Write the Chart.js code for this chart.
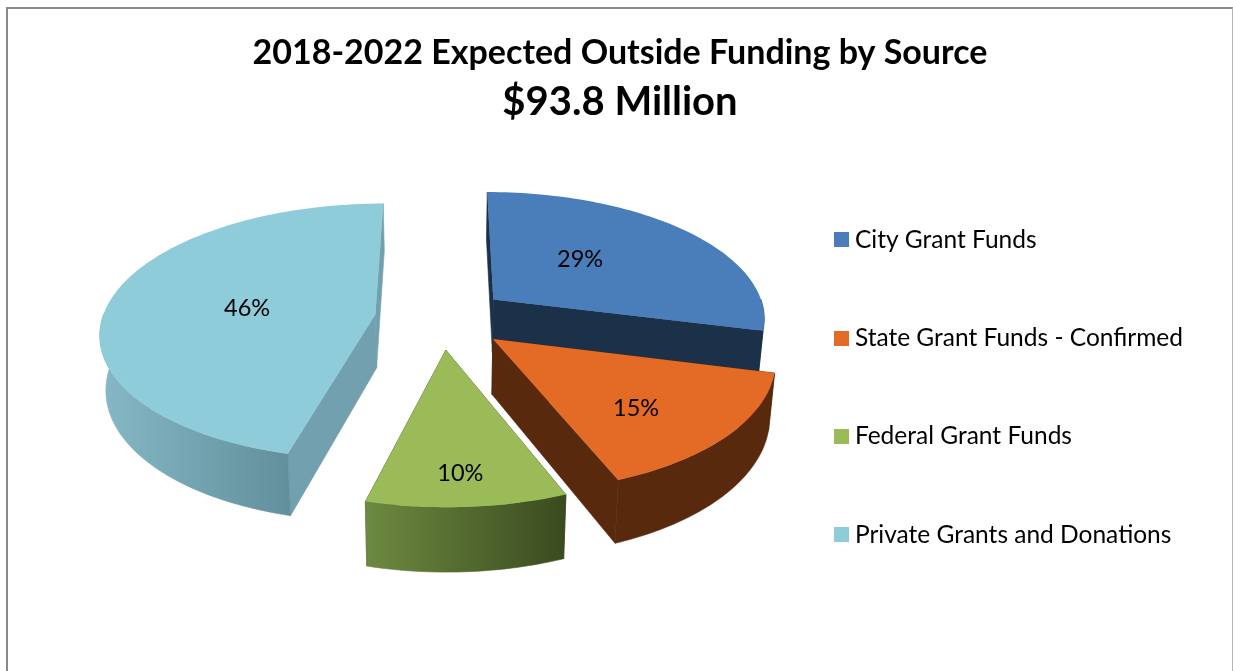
<!DOCTYPE html>
<html lang="en">
<head>
<meta charset="UTF-8">
<title>2018-2022 Expected Outside Funding by Source</title>
<script src="https://cdn.jsdelivr.net/npm/chart.js"></script>
<style>
    body { margin: 0; background: #ffffff; }
    #frame {
        position: absolute; left: 6px; top: 7px; width: 1224px; height: 670px;
        border-top: 2px solid #8a8a8a; border-left: 2px solid #8a8a8a; border-right: 1px solid #b5b5b5;
    }
    #wrap { position: absolute; left: 0; top: 0; width: 1233px; height: 671px; overflow: hidden; }
</style>
</head>
<body>
<div id="frame"></div>
<div id="wrap"><canvas id="funding"></canvas></div>
<script>
const categories = ["City Grant Funds", "State Grant Funds - Confirmed", "Federal Grant Funds", "Private Grants and Donations"];
const shares = [29, 15, 10, 46];
const topColors = ["#4a7ebb", "#e46b25", "#9bbb59", "#8fccda"];
const faceColors = ["#1b3049", "#58290d", "#4e6130", "#73a0ae"];
const wallStops = [["#1b3049", "#1b3049"], ["#58290d", "#58290d"], ["#6d8a40", "#3a4a1f"], ["#86b8c6", "#62909c"]];

const FONT = "Lato, 'Open Sans', sans-serif";

// perspective view of the pie plane; u/v are in pie radii, v grows towards the viewer
const view = { cx: 441.5, cy: 318, rx: 273, ry: 126.5, persp: 0.135, explode: 0.245, depth: 54, shrink: 0.982 };

// where the percentage sits along each slice's middle, plus a small pixel nudge
const labelRadius = [0.47, 0.66, 0.8, 0.47];
const labelNudge = [[-7, -6], [-7, 8], [-2, 2], [-3, 2]];

function project(u, v) {
    const w = 1 - view.persp * v;
    return { x: view.cx + view.rx * u / w, y: view.cy + view.ry * v / w, w };
}

function drop(p) {
    return { x: view.cx + (p.x - view.cx) * view.shrink, y: p.y + view.depth / p.w };
}

// Chart.js arc angles run clockwise from 3 o'clock, same sense as u/v here
function planePoint(arc, angle, r) {
    const mid = (arc.startAngle + arc.endAngle) / 2;
    return {
        u: view.explode * Math.cos(mid) + r * Math.cos(angle),
        v: view.explode * Math.sin(mid) + r * Math.sin(angle)
    };
}

function rimPoints(arc, frontOnly) {
    const pts = [];
    const steps = Math.ceil((arc.endAngle - arc.startAngle) * 40);
    for (let i = 0; i <= steps; i++) {
        const a = arc.startAngle + (arc.endAngle - arc.startAngle) * i / steps;
        if (frontOnly && Math.sin(a) < -0.02) continue;
        const q = planePoint(arc, a, 1);
        pts.push(project(q.u, q.v));
    }
    return pts;
}

function tracePoly(ctx, pts) {
    ctx.beginPath();
    pts.forEach((p, i) => i ? ctx.lineTo(p.x, p.y) : ctx.moveTo(p.x, p.y));
    ctx.closePath();
}

function fillTop(ctx, pts, fill) {
    tracePoly(ctx, pts);
    ctx.fillStyle = fill;
    ctx.fill();
}

// side panels get a hairline in their own colour so no seam shows between them
function fillSide(ctx, pts, fill) {
    tracePoly(ctx, pts);
    ctx.fillStyle = fill;
    ctx.strokeStyle = fill;
    ctx.lineWidth = 0.6;
    ctx.fill();
    ctx.stroke();
}

function drawSlice(ctx, arc, i) {
    const q = planePoint(arc, 0, 0);
    const apex = project(q.u, q.v);
    const rim = rimPoints(arc, false);
    const first = rim[0], last = rim[rim.length - 1];

    fillSide(ctx, [apex, first, drop(first), drop(apex)], faceColors[i]);
    fillSide(ctx, [apex, last, drop(last), drop(apex)], faceColors[i]);

    const front = rimPoints(arc, true);
    if (front.length > 1) {
        const xs = front.map(p => p.x);
        const grad = ctx.createLinearGradient(Math.min(...xs), 0, Math.max(...xs), 0);
        grad.addColorStop(0, wallStops[i][0]);
        grad.addColorStop(1, wallStops[i][1]);
        fillSide(ctx, front.concat(front.map(drop).reverse()), grad);
    }

    fillTop(ctx, [apex].concat(rim), topColors[i]);
}

const pie3d = {
    id: "pie3d",
    beforeDatasetsDraw(chart) {
        const ctx = chart.ctx;
        const arcs = chart.getDatasetMeta(0).data;
        ctx.save();
        // back slices first so the front ones sit on top
        [0, 3, 1, 2].forEach(i => drawSlice(ctx, arcs[i], i));

        ctx.fillStyle = "#000000";
        ctx.font = "23.5px " + FONT;
        ctx.textAlign = "center";
        ctx.textBaseline = "middle";
        arcs.forEach((arc, i) => {
            const mid = (arc.startAngle + arc.endAngle) / 2;
            const q = planePoint(arc, mid, labelRadius[i]);
            const p = project(q.u, q.v);
            ctx.fillText(shares[i] + "%", p.x + labelNudge[i][0], p.y + labelNudge[i][1]);
        });
        ctx.restore();
        return false;
    }
};

function swatch(color) {
    const c = document.createElement("canvas");
    c.width = 15;
    c.height = 15;
    const g = c.getContext("2d");
    g.fillStyle = color;
    g.fillRect(0, 0, 15, 15);
    return c;
}

new Chart(document.getElementById("funding"), {
    type: "pie",
    data: {
        labels: categories,
        datasets: [{ data: shares, backgroundColor: topColors, borderWidth: 0 }]
    },
    options: {
        responsive: true,
        maintainAspectRatio: false,
        animation: false,
        layout: { padding: { top: 33, right: 40, bottom: 42, left: 47 } },
        plugins: {
            tooltip: { enabled: false },
            title: {
                display: true,
                text: "2018-2022 Expected Outside Funding by Source",
                color: "#000000",
                font: { family: FONT, size: 34, weight: "bold" },
                padding: { top: 0, bottom: 4 }
            },
            subtitle: {
                display: true,
                text: "$93.8 Million",
                color: "#000000",
                font: { family: FONT, size: 40, weight: "bold" },
                padding: { top: 0, bottom: 20 }
            },
            legend: {
                position: "right",
                fullSize: false,
                labels: {
                    color: "#000000",
                    font: { family: FONT, size: 24.5 },
                    usePointStyle: true,
                    pointStyleWidth: 2.75,
                    boxHeight: 15,
                    padding: 73.8,
                    generateLabels(chart) {
                        return categories.map((name, i) => ({
                            text: name,
                            fillStyle: topColors[i],
                            strokeStyle: topColors[i],
                            lineWidth: 0,
                            pointStyle: swatch(topColors[i]),
                            index: i
                        }));
                    }
                }
            }
        }
    },
    plugins: [pie3d]
});
</script>
</body>
</html>
